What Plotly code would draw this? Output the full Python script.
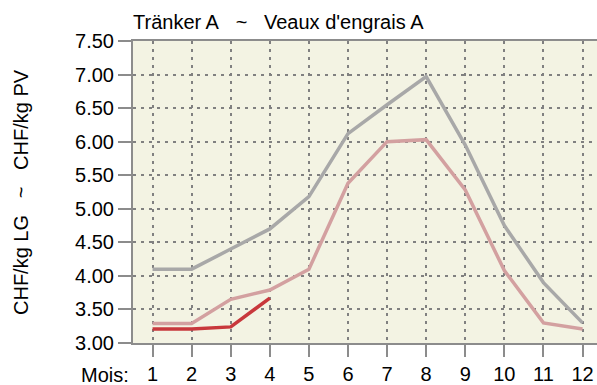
import plotly.graph_objects as go

# Monthly price series (CHF/kg)
months = [1, 2, 3, 4, 5, 6, 7, 8, 9, 10, 11, 12]
upper_band = [4.10, 4.10, 4.40, 4.70, 5.18, 6.12, 6.55, 6.97, 5.95, 4.75, 3.90, 3.30]
lower_band = [3.29, 3.29, 3.65, 3.79, 4.10, 5.38, 6.00, 6.03, 5.28, 4.08, 3.30, 3.21]
current_months = [1, 2, 3, 4]
current_year = [3.21, 3.21, 3.24, 3.67]

y_ticks = [3.0, 3.5, 4.0, 4.5, 5.0, 5.5, 6.0, 6.5, 7.0, 7.5]
y_tick_text = ["%.2f" % v for v in y_ticks]

FONT = "Liberation Sans, Arial, sans-serif"
PLOT_W = 597 - 133
PLOT_H = 385 - 41 - 42
SEP = "\u00a0\u00a0\u00a0~\u00a0\u00a0\u00a0"  # non-collapsing spaces around the tilde

fig = go.Figure()
fig.add_trace(go.Scatter(x=months, y=upper_band, mode="lines",
                         line=dict(color="#A8A8A8", width=3.5), hoverinfo="skip"))
fig.add_trace(go.Scatter(x=months, y=lower_band, mode="lines",
                         line=dict(color="#D3A0A0", width=3.5), hoverinfo="skip"))
fig.add_trace(go.Scatter(x=current_months, y=current_year, mode="lines",
                         line=dict(color="#C8383C", width=3.5), hoverinfo="skip"))

fig.update_layout(
    width=597, height=385,
    margin=dict(l=133, r=0, t=41, b=42),
    paper_bgcolor="white",
    plot_bgcolor="#F3F3E3",
    showlegend=False,
    font=dict(family=FONT, size=20, color="#000000"),
    title=dict(text="Tränker A" + SEP + "Veaux d'engrais A", x=133 / 597, xanchor="left",
               y=1 - 22 / 385, yanchor="middle", font=dict(size=20)),
)

fig.update_xaxes(
    range=[0.5, 12.37], tickmode="array", tickvals=months,
    showline=True, linecolor="#8C8C8C", linewidth=2, mirror=True,
    ticks="outside", ticklen=12, tickwidth=2, tickcolor="#8C8C8C",
    showgrid=True, gridcolor="#808080", gridwidth=1.5, griddash="3px,5px",
    zeroline=False, tickfont=dict(size=20),
)
fig.update_yaxes(
    range=[3.0, 7.5], tickmode="array", tickvals=y_ticks, ticktext=y_tick_text,
    showline=True, linecolor="#8C8C8C", linewidth=2,
    ticks="outside", ticklen=13, tickwidth=2, tickcolor="#8C8C8C",
    showgrid=True, gridcolor="#808080", gridwidth=1.5, griddash="3px,5px",
    zeroline=False, tickfont=dict(size=20),
)

# Vertical axis caption
fig.add_annotation(text="CHF/kg LG" + SEP + "CHF/kg PV", textangle=-90,
                   xref="paper", yref="paper",
                   x=(21 - 133) / PLOT_W, y=(343 - 192) / PLOT_H,
                   xanchor="center", yanchor="middle",
                   showarrow=False, font=dict(size=20))

# Label in front of the month ticks
fig.add_annotation(text="Mois:", xref="paper", yref="paper",
                   x=-2 / PLOT_W, y=-32 / PLOT_H, xanchor="right", yanchor="middle",
                   showarrow=False, font=dict(size=20))

fig.write_html("out.html")
